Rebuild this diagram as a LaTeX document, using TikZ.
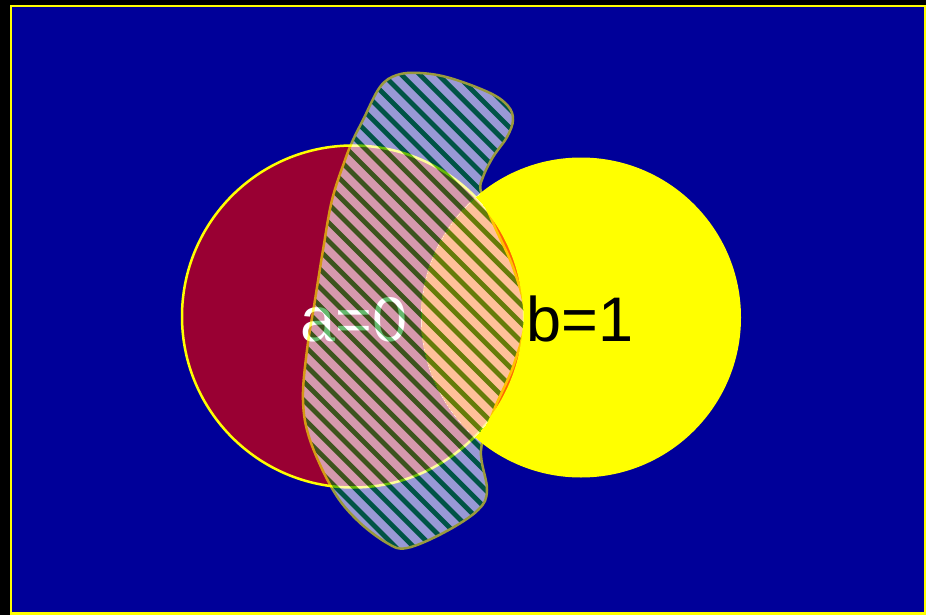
\documentclass[tikz,border=0pt]{standalone}
\usepackage{fontspec}
\setmainfont{Liberation Sans}
\definecolor{bgblue}{RGB}{0,0,153}
\definecolor{crimson}{RGB}{153,0,51}
\definecolor{lensorange}{RGB}{255,102,0}
\definecolor{stripe}{RGB}{0,140,15}
\definecolor{yel}{RGB}{255,255,0}
\definecolor{wht}{RGB}{255,255,255}
\tikzset{
  lbl/.style={font=\fontsize{63}{63}\selectfont, anchor=base, inner sep=0pt},
  stripeline/.style={draw=stripe, line width=4.8pt},
  blobedge/.style={draw=yel, line width=2.5pt},
}
\newcommand{\drawblob}{%
  \begin{scope}
  \clip plot[smooth cycle, tension=0.6] coordinates {
    (420,73) (450,78) (490,93) (508,106) (513,120) (507,137) (493,157) (483,177) (481,192)
    (494,225) (514,270) (525,317) (514,364) (494,410)
    (481,450) (487,490) (478,510) (445,532) (407,548) (387,543) (357,520) (333,490)
    (310,440) (303,400) (307,350) (315,300) (323,250) (332,200) (345,160) (353,140)
    (363,120) (380,87) (397,75)};
  \fill[wht] (280,60) rectangle (540,560);
  \foreach \c in {-262,-243.6,...,480} \path[stripeline] (\c,0) -- ++(700,700);
  \end{scope}
  \path[blobedge] plot[smooth cycle, tension=0.6] coordinates {
    (420,73) (450,78) (490,93) (508,106) (513,120) (507,137) (493,157) (483,177) (481,192)
    (494,225) (514,270) (525,317) (514,364) (494,410)
    (481,450) (487,490) (478,510) (445,532) (407,548) (387,543) (357,520) (333,490)
    (310,440) (303,400) (307,350) (315,300) (323,250) (332,200) (345,160) (353,140)
    (363,120) (380,87) (397,75)};}
\begin{document}
\begin{tikzpicture}[x=1pt,y=-1pt]
\useasboundingbox (0,0) rectangle (926,615);
\fill[black] (0,0) rectangle (926,615);
\draw[yel, line width=2.5pt, fill=bgblue] (11,6) rectangle (925,613.5);
% red circle
\fill[crimson] (353,316.5) circle[radius=171pt];
\draw[yel, line width=2.5pt] (353,316.5) circle[radius=171pt];
% yellow circle
\fill[yel] (581,317.5) circle[radius=160pt];
% lens
\begin{scope}
  \clip (353,316.5) circle[radius=171pt];
  \fill[lensorange] (581,317.5) circle[radius=160pt];
\end{scope}
\begin{scope}
  \clip (581,317.5) circle[radius=160pt];
  \draw[yel, line width=2pt] (353,316.5) circle[radius=171pt];
\end{scope}
% labels
\node[lbl, text=wht] (a) at (354,341) {a=0};
\node[lbl, text=black] (b) at (580,341) {b=1};
% blob outside the yellow circle
\begin{scope}[even odd rule]
  \clip (0,0) rectangle (926,615) (581,317.5) circle[radius=160pt];
  \begin{scope}[transparency group, opacity=0.6, nonzero rule]
    \drawblob
  \end{scope}
\end{scope}
% blob inside the lens
\begin{scope}
  \clip (353,316.5) circle[radius=171pt];
  \clip (581,317.5) circle[radius=160pt];
  \begin{scope}[transparency group, opacity=0.6]
    \drawblob
  \end{scope}
\end{scope}
\end{tikzpicture}
\end{document}
